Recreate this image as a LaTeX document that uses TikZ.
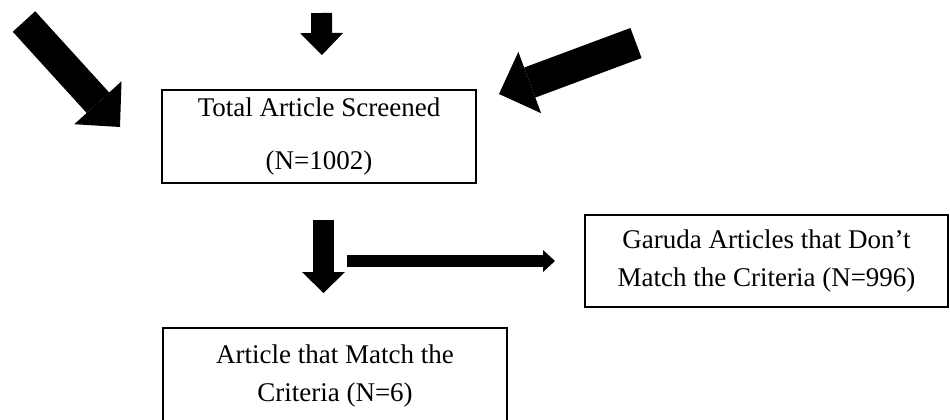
\documentclass[tikz,border=0pt]{standalone}
\usepackage{fontspec}
\setmainfont{Liberation Serif}
\usetikzlibrary{arrows.meta}

\tikzset{
	box/.style={draw, line width=1.1pt, inner sep=0pt, align=center,
		font=\fontsize{13.5pt}{18.75pt}\selectfont},
	fatarrow/.style n args={3}{line width=#1,
		-{Triangle[length=#2, width=#3, line width=0pt]}}
}

\begin{document}
\begin{tikzpicture}[x=0.5pt,y=-0.5pt]
		\useasboundingbox (0,0) rectangle (950,419);
		
		\node[box, minimum width=157pt, minimum height=46.5pt,
			font=\fontsize{13.5pt}{26.5pt}\selectfont] (screened) at (319,136.5) {Total Article Screened\\(N=1002)};
		\node[box, minimum width=181.5pt, minimum height=46pt] (nomatch) at (766.5,261) {Garuda Articles that Don’t\\Match the Criteria (N=996)};
		\node[box, minimum width=172pt, minimum height=48pt] (match) at (335,376) {Article that Match the\\Criteria (N=6)};
		
		\coordinate (a1) at (24,21.5);
		\coordinate (a2) at (120,127);
		\coordinate (b1) at (321.5,13);
		\coordinate (b2) at (322,55);
		\coordinate (c1) at (636,43);
		\coordinate (c2) at (499,94);
		\coordinate (d1) at (323.5,220);
		\coordinate (d2) at (323.5,293);
		\coordinate (e1) at (347,261);
		\coordinate (e2) at (555,261);
		
		\draw[fatarrow={15.2pt}{16.4pt}{31.9pt}] (a1) -- (a2);
		\draw[fatarrow={10.5pt}{11pt}{21.5pt}] (b1) -- (b2);
		\draw[fatarrow={16pt}{16.4pt}{32.7pt}] (c1) -- (c2);
		\draw[fatarrow={10.5pt}{10.5pt}{21.5pt}] (d1) -- (d2);
		\draw[fatarrow={6pt}{6pt}{11pt}] (e1) -- (e2);
\end{tikzpicture}
\end{document}
